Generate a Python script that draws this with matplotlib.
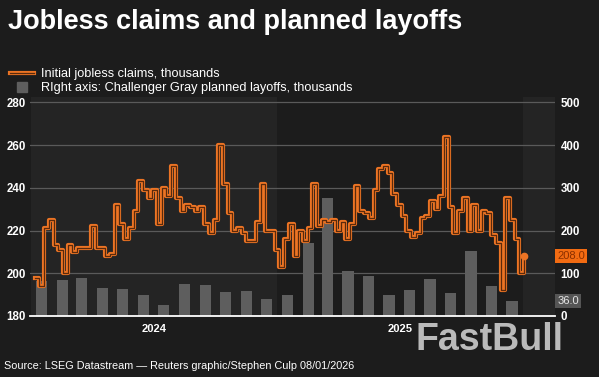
import numpy as np
import pandas as pd
import matplotlib
matplotlib.use("Agg")
import matplotlib.pyplot as plt
import matplotlib.dates as mdates
from matplotlib.lines import Line2D
import matplotlib.patheffects as pe

# weekly initial jobless claims, thousands (week ending Saturday)
claims = [198, 194, 221, 225, 213, 211, 200, 213, 210, 212, 212, 212, 222, 212, 212,
          208, 209, 232, 223, 216, 221, 229, 243, 239, 235, 239, 223, 240, 236, 250,
          235, 229, 232, 231, 229, 231, 223, 219, 225, 260, 242, 228, 220, 221, 219,
          215, 215, 224, 242, 220, 220, 211, 203, 216, 223, 208, 220, 215, 221, 242,
          222, 225, 224, 225, 220, 224, 216, 223, 241, 229, 228, 226, 239, 249, 250,
          247, 237, 232, 227, 220, 217, 219, 226, 227, 234, 230, 236, 264, 231, 219,
          229, 235, 220, 232, 220, 229, 228, 218, 214, 192, 235, 225, 216, 200, 208]
claims_start = "2024-01-06"

# monthly Challenger Gray planned layoffs, thousands
layoffs = [82, 84, 90, 65, 63, 48, 25, 76, 73, 55, 58, 39,
           50, 172, 275, 105, 94, 48, 62, 86, 54, 153, 71, 36]
layoffs_start = "2024-01-01"

years = ["2024", "2025"]
left_ticks = [180, 200, 220, 240, 260, 280]
right_ticks = [0, 100, 200, 300, 400, 500]

title = "Jobless claims and planned layoffs"
label_claims = "Initial jobless claims, thousands"
label_layoffs = "RIght axis: Challenger Gray planned layoffs, thousands"
source = "Source: LSEG Datastream \u2014 Reuters graphic/Stephen Culp 08/01/2026"

BG = "#1c1c1c"
SHADE = "#242424"
ORANGE = "#ec7424"
DARK = "#5a2a0c"
GREY_BAR = "#5e5e5e"
GRID = "#5a5a5a"
FONT = "Liberation Sans"

plt.rcParams["font.family"] = FONT

weeks = pd.date_range(claims_start, periods=len(claims), freq="7D")
months = pd.date_range(layoffs_start, periods=len(layoffs), freq="MS") + pd.Timedelta(days=15)

fig = plt.figure(figsize=(5.99, 3.77), dpi=100, facecolor=BG)
ax = fig.add_axes([30 / 599, 61 / 377, 525 / 599, 219 / 377])
ax2 = ax.twinx()
ax.set_zorder(2)
ax2.set_zorder(1)
ax.patch.set_visible(False)
ax2.patch.set_visible(True)
ax2.patch.set_facecolor(BG)

# alternating year shading
for y0, y1 in [("2024-01-01", "2025-01-01"), ("2026-01-01", "2026-03-01")]:
    ax2.axvspan(pd.Timestamp(y0), pd.Timestamp(y1), color=SHADE, lw=0, zorder=0)

ax2.bar(months, layoffs, width=16.5, color=GREY_BAR, zorder=2)
ax2.set_ylim(0, 512.5)
ax2.set_yticks(right_ticks)
ax2.grid(axis="y", color=GRID, lw=0.9, zorder=1)
ax2.set_axisbelow(True)

stroke = [pe.Stroke(linewidth=3.0, foreground=ORANGE), pe.Normal()]
ax.step(weeks, claims, where="post", color=DARK, lw=0.9, path_effects=stroke, zorder=3)
ax.plot(weeks[-1], claims[-1], "o", color=ORANGE, ms=4.5, zorder=4)

ax.set_ylim(180, 282.5)
ax.set_yticks(left_ticks)
ax.set_xlim(pd.Timestamp("2023-12-30"), pd.Timestamp("2026-02-18"))

mid_years = [pd.Timestamp(f"{y}-07-02") for y in years]
ax.set_xticks(mid_years)
ax.set_xticklabels(years)

for a in (ax, ax2):
    for s in a.spines.values():
        s.set_visible(False)
    a.tick_params(length=0, colors="white", labelsize=8.3)
    for lab in a.get_yticklabels() + a.get_xticklabels():
        lab.set_fontweight("bold")
ax.spines["bottom"].set_visible(True)
ax.spines["bottom"].set_color("white")
ax.spines["bottom"].set_linewidth(1.3)
ax.tick_params(axis="y", pad=3)
ax2.tick_params(axis="y", pad=4)
ax.tick_params(axis="x", pad=6, labelsize=8)

# last-value boxes on the right axis
ax.text(1.004, claims[-1], f"{claims[-1]:.1f}", transform=ax.get_yaxis_transform(),
        ha="left", va="center", fontsize=8, color="#8a2f00",
        bbox=dict(boxstyle="square,pad=0.18", fc="#f26b12", ec="none"), zorder=5, clip_on=False)
ax2.text(1.004, layoffs[-1], f"{layoffs[-1]:.1f}", transform=ax2.get_yaxis_transform(),
         ha="left", va="center", fontsize=8, color="#e6e6e6",
         bbox=dict(boxstyle="square,pad=0.18", fc="#555555", ec="none"), zorder=5, clip_on=False)

fig.text(8 / 599, 1 - 22 / 377, title, fontsize=19.5, fontweight="bold", color="white",
         va="center", ha="left")

handles = [Line2D([], [], color=DARK, lw=0.9, path_effects=stroke),
           Line2D([], [], marker="s", ls="none", color=GREY_BAR, ms=7.5)]
fig.legend(handles, [label_claims, label_layoffs], loc="upper left",
           bbox_to_anchor=(10 / 599, 1 - 68.5 / 377), frameon=False, fontsize=9.2,
           labelcolor="white", handlelength=1.9, handletextpad=0.5, labelspacing=0.12,
           borderpad=0, borderaxespad=0)

fig.text(4 / 599, 1 - 366 / 377, source, fontsize=7.8, color="white", va="center", ha="left")
fig.text(489 / 599, 1 - 340 / 377, "FastBull", fontsize=27, fontweight="bold",
         color="#c4c4c4", va="center", ha="center", alpha=0.95)

fig.savefig("out.png", dpi=100, facecolor=BG)
